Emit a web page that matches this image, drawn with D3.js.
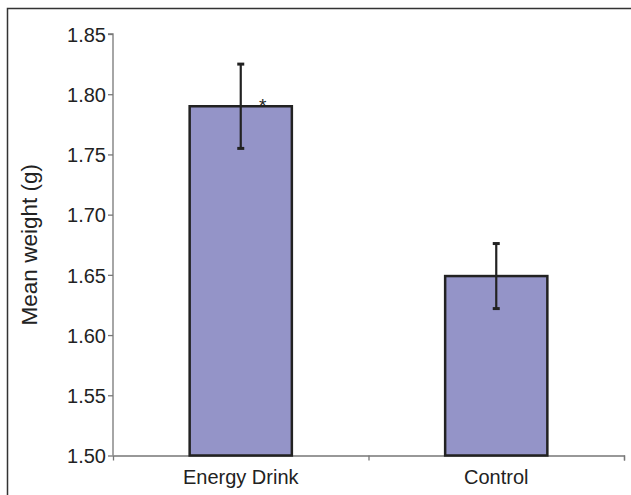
<!DOCTYPE html>
<html lang="en">
<head>
    <meta charset="UTF-8">
    <title>Mean weight</title>
    <script src="https://d3js.org/d3.v7.min.js"></script>
    <style>
        body { margin: 0; background: #fff; }
        text { font-family: "Liberation Sans", Arial, sans-serif; fill: #222; }
    </style>
</head>
<body>
    <svg id="chart"></svg>

    <script>
        // Chart data
        const categories = ["Energy Drink", "Control"];
        const means = [1.79, 1.649];
        const errors = [0.035, 0.027];
        const yTicks = [1.50, 1.55, 1.60, 1.65, 1.70, 1.75, 1.80, 1.85];
        const marked = ["Energy Drink"];

        const width = 631, height = 495;
        const margin = { top: 34, right: 7, bottom: 39.5, left: 113 };

        const svg = d3.select("#chart")
            .attr("width", width)
            .attr("height", height);

        // outer frame (right and bottom edges run off the picture)
        svg.append("path")
            .attr("d", `M7.5,${height} V8.5 H${width}`)
            .attr("fill", "none")
            .attr("stroke", "#333")
            .attr("stroke-width", 1.5);

        const x = d3.scaleBand()
            .domain(categories)
            .range([margin.left, width - margin.right])
            .paddingInner(0.6)
            .paddingOuter(0.3);

        const y = d3.scaleLinear()
            .domain([1.50, 1.85])
            .range([height - margin.bottom, margin.top]);

        // y axis
        const yAxis = svg.append("g")
            .attr("transform", `translate(${margin.left},0)`)
            .call(d3.axisLeft(y).tickValues(yTicks).tickFormat(d3.format(".2f")).tickSize(5).tickPadding(2));
        yAxis.selectAll("text").attr("font-size", 20).attr("font-family", null).attr("dy", "0.36em");

        // x axis, with ticks between the categories
        const xAxisG = svg.append("g")
            .attr("transform", `translate(0,${height - margin.bottom})`);
        const xEdge = d3.scaleLinear().domain([0, categories.length]).range([margin.left, width - margin.right]);
        xAxisG.call(d3.axisBottom(xEdge).ticks(categories.length).tickSize(5).tickFormat(""));
        xAxisG.select(".tick").remove();

        [yAxis, xAxisG].forEach(g => {
            g.select(".domain").attr("stroke", "#777").attr("stroke-width", 1.3);
            g.selectAll(".tick line").attr("stroke", "#777").attr("stroke-width", 1.3);
        });
        yAxis.select(".domain").attr("d", `M-5,${y(1.85)}H0V${y(1.50)}`);

        // category labels
        svg.selectAll(".cat")
            .data(categories)
            .join("text")
            .attr("class", "cat")
            .attr("x", d => x(d) + x.bandwidth() / 2)
            .attr("y", height - margin.bottom + 28)
            .attr("text-anchor", "middle")
            .attr("font-size", 20)
            .text(d => d);

        // y title
        svg.append("text")
            .attr("transform", `translate(37,${(y(1.50) + y(1.85)) / 2}) rotate(-90)`)
            .attr("text-anchor", "middle")
            .attr("font-size", 22.5)
            .text("Mean weight (g)");

        // bars
        svg.selectAll(".bar")
            .data(categories)
            .join("rect")
            .attr("class", "bar")
            .attr("x", d => x(d))
            .attr("y", (d, i) => y(means[i]))
            .attr("width", x.bandwidth())
            .attr("height", (d, i) => y(1.50) - y(means[i]))
            .attr("fill", "#9494c8")
            .attr("stroke", "#222")
            .attr("stroke-width", 2.5);

        // error bars
        const err = svg.selectAll(".err")
            .data(categories)
            .join("g")
            .attr("class", "err")
            .attr("stroke", "#222")
            .attr("stroke-width", 2.2);
        err.append("line")
            .attr("x1", d => x(d) + x.bandwidth() / 2)
            .attr("x2", d => x(d) + x.bandwidth() / 2)
            .attr("y1", (d, i) => y(means[i] + errors[i]))
            .attr("y2", (d, i) => y(means[i] - errors[i]));
        [1, -1].forEach(s => {
            err.append("line")
                .attr("x1", d => x(d) + x.bandwidth() / 2 - 3.5)
                .attr("x2", d => x(d) + x.bandwidth() / 2 + 3.5)
                .attr("y1", (d, i) => y(means[i] + s * errors[i]))
                .attr("y2", (d, i) => y(means[i] + s * errors[i]))
                .attr("stroke-width", 3);
        });

        // significance mark
        svg.selectAll(".star")
            .data(marked)
            .join("text")
            .attr("class", "star")
            .attr("x", d => x(d) + x.bandwidth() / 2 + 22)
            .attr("y", d => y(means[categories.indexOf(d)]) + 6)
            .attr("text-anchor", "middle")
            .attr("font-size", 19)
            .text("*");
    </script>
</body>
</html>
